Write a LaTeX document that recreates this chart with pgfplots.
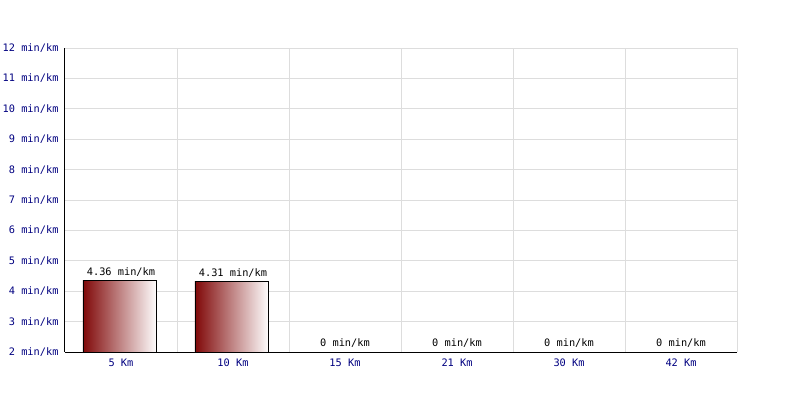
\documentclass[border=0pt]{standalone}
\usepackage{pgfplots}
\pgfplotsset{compat=1.18}
\usepackage{fontspec}
\setmainfont{DejaVu Sans Mono}
\definecolor{gridc}{RGB}{221,221,221}
\definecolor{navyc}{RGB}{0,0,128}
\definecolor{barc}{RGB}{128,8,8}
\begin{document}
\begin{tikzpicture}
\begin{axis}[
  scale only axis,
  width=672pt, height=304pt,
  xmin=0, xmax=6, ymin=2, ymax=12,
  axis x line*=bottom, axis y line*=left,
  axis line style={black, line width=1pt, -},
  xtick={0.5,1.5,2.5,3.5,4.5,5.5},
  xticklabels={5 Km,10 Km,15 Km,21 Km,30 Km,42 Km},
  minor xtick={0,1,2,3,4,5,6},
  ytick={2,3,4,5,6,7,8,9,10,11,12},
  yticklabels={2 min/km,3 min/km,4 min/km,5 min/km,6 min/km,7 min/km,8 min/km,9 min/km,10 min/km,11 min/km,12 min/km},
  ymajorgrids, xminorgrids,
  grid style={gridc, line width=1pt},
  minor grid style={gridc, line width=1pt},
  major tick length=0pt, minor tick length=0pt,
  tick label style={font=\fontsize{10.3pt}{12pt}\selectfont, text=navyc},
  xticklabel style={yshift=-3pt},
  yticklabel style={xshift=-3pt},
]
\addplot[ybar, bar width=0.66, bar shift=-0.01, draw=black, line width=0.8pt,
  left color=barc, right color=white] coordinates {(0.5,4.36)};
\addplot[ybar, bar width=0.66, bar shift=-0.01, draw=black, line width=0.8pt,
  left color=barc, right color=white] coordinates {(1.5,4.31)};
\addplot[draw=none, nodes near coords, point meta=explicit symbolic,
  nodes near coords style={anchor=south, font=\fontsize{10.3pt}{12pt}\selectfont, text=black, inner sep=4pt}]
  coordinates {(0.5,4.36) [4.36 min/km] (1.5,4.31) [4.31 min/km]
  (2.5,2) [0 min/km] (3.5,2) [0 min/km] (4.5,2) [0 min/km] (5.5,2) [0 min/km]};
\end{axis}
\pgfresetboundingbox
\path (current axis.south west) ++(-65pt,-48pt) rectangle ++(800pt,400pt);
\end{tikzpicture}
\end{document}
